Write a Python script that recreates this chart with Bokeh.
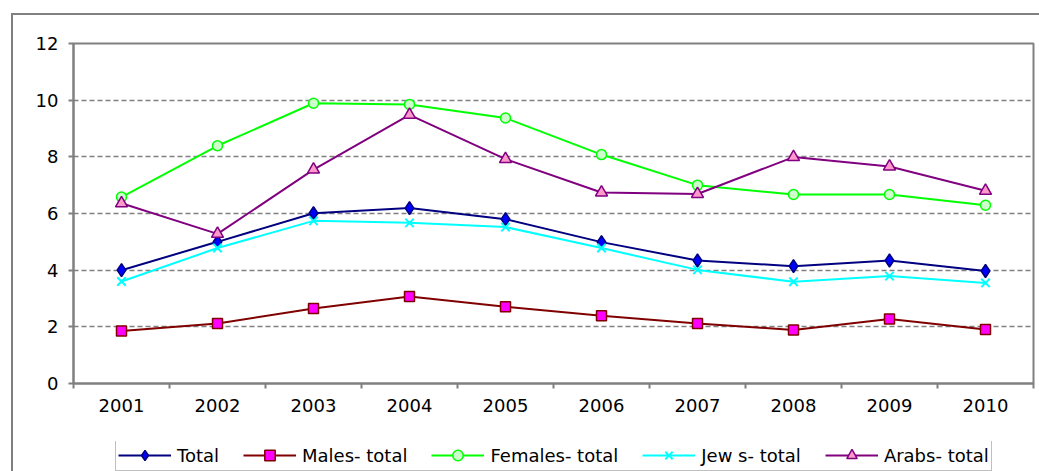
from bokeh.plotting import figure
from bokeh.models import FixedTicker, Legend, LegendItem, Range1d
from bokeh.layouts import column
from bokeh.embed import file_html
from bokeh.resources import INLINE

years = ["2001", "2002", "2003", "2004", "2005", "2006", "2007", "2008", "2009", "2010"]
total = [4.0, 5.0, 6.01, 6.19, 5.8, 4.99, 4.34, 4.14, 4.34, 3.97]
males = [1.85, 2.12, 2.65, 3.07, 2.71, 2.39, 2.12, 1.89, 2.28, 1.91]
females = [6.58, 8.39, 9.89, 9.85, 9.37, 8.08, 7.0, 6.67, 6.67, 6.29]
jews = [3.6, 4.78, 5.74, 5.67, 5.52, 4.78, 4.01, 3.59, 3.79, 3.55]
arabs = [6.36, 5.28, 7.55, 9.48, 7.92, 6.74, 6.69, 7.99, 7.66, 6.8]
y_ticks = [0, 2, 4, 6, 8, 10, 12]
series_names = ["Total", "Males- total", "Females- total", "Jew s- total", "Arabs- total"]

xs = [i + 0.5 for i in range(len(years))]

GRAY = "#808080"
FONT = "DejaVu Sans"

p = figure(width=1026, height=426, output_backend="svg", toolbar_location=None,
           x_range=Range1d(0, len(years)), y_range=Range1d(0, 12),
           min_border_left=60, min_border_right=6, min_border_top=28, min_border_bottom=58)
p.background_fill_color = "white"
p.border_fill_color = "white"
p.outline_line_color = GRAY
p.outline_line_width = 2

# axes
p.xaxis.ticker = FixedTicker(ticks=xs, minor_ticks=list(range(len(years) + 1)))
p.xaxis.major_label_overrides = {x: y for x, y in zip(xs, years)}
p.xaxis.major_tick_out = 0
p.xaxis.major_tick_in = 0
p.xaxis.minor_tick_out = 5
p.xaxis.minor_tick_in = 0
p.xaxis.minor_tick_line_color = GRAY
p.xaxis.minor_tick_line_width = 2
p.yaxis.ticker = FixedTicker(ticks=y_ticks)
p.yaxis.minor_tick_line_color = None
p.yaxis.major_tick_out = 5
p.yaxis.major_tick_in = 0
for ax in (p.xaxis, p.yaxis):
    ax.axis_line_color = GRAY
    ax.axis_line_width = 2
    ax.major_tick_line_color = GRAY
    ax.major_tick_line_width = 2
    ax.major_label_text_font = FONT
    ax.major_label_text_font_size = "18px"
    ax.major_label_text_color = "black"
p.yaxis.major_label_standoff = 10
p.xaxis.major_label_standoff = 10

p.xgrid.grid_line_color = None
p.ygrid.ticker = FixedTicker(ticks=y_ticks)
p.ygrid.grid_line_color = GRAY
p.ygrid.grid_line_width = 1.5
p.ygrid.grid_line_dash = "5 3"

specs = [
    (total, "#000080", "diamond", "#0000FF", "#000080", 13),
    (males, "#800000", "square", "#FF00FF", "#800000", 10),
    (females, "#00FF00", "circle", "#CCFFCC", "#00FF00", 10),
    (jews, "#00FFFF", "x", "#00FFFF", "#00FFFF", 12),
    (arabs, "#800080", "triangle", "#FF99CC", "#800080", 12),
]

# legend strip: its own small figure (same side borders so frames align);
# its ranges are far from the data so its series copies stay out of view.
lg = figure(width=1026, height=30, output_backend="svg", toolbar_location=None,
            x_range=Range1d(-100, -99), y_range=Range1d(-100, -99),
            min_border_left=60, min_border_right=6, min_border_top=0, min_border_bottom=0)
lg.axis.visible = False
lg.grid.grid_line_color = None
lg.outline_line_color = None
lg.background_fill_color = "white"
lg.border_fill_color = "white"

items = []
for name, (vals, lc, mk, fc, oc, sz) in zip(series_names, specs):
    lw = 2 if mk == "x" else 1.5
    p.line(xs, vals, line_color=lc, line_width=2)
    p.scatter(xs, vals, marker=mk, size=sz, fill_color=fc, line_color=oc, line_width=lw)
    lr = lg.line(xs, vals, line_color=lc, line_width=2)
    sr = lg.scatter(xs, vals, marker=mk, size=sz, fill_color=fc, line_color=oc, line_width=lw)
    items.append(LegendItem(label=name, renderers=[lr, sr]))

legend = Legend(items=items, orientation="horizontal", location=(42, 0),
                label_text_font=FONT, label_text_font_size="18px", label_text_color="black",
                glyph_width=53, glyph_height=26, label_standoff=6, spacing=24, padding=2,
                margin=0,
                border_line_color=GRAY, border_line_width=1, background_fill_color="white",
                background_fill_alpha=1)
lg.add_layout(legend)

page = column(p, lg, margin=(13, 0, 0, 11), spacing=0,
              styles={"border-left": "2px solid #808080", "border-top": "2px solid #808080"})

open("out.html", "w").write(file_html(page, INLINE))
